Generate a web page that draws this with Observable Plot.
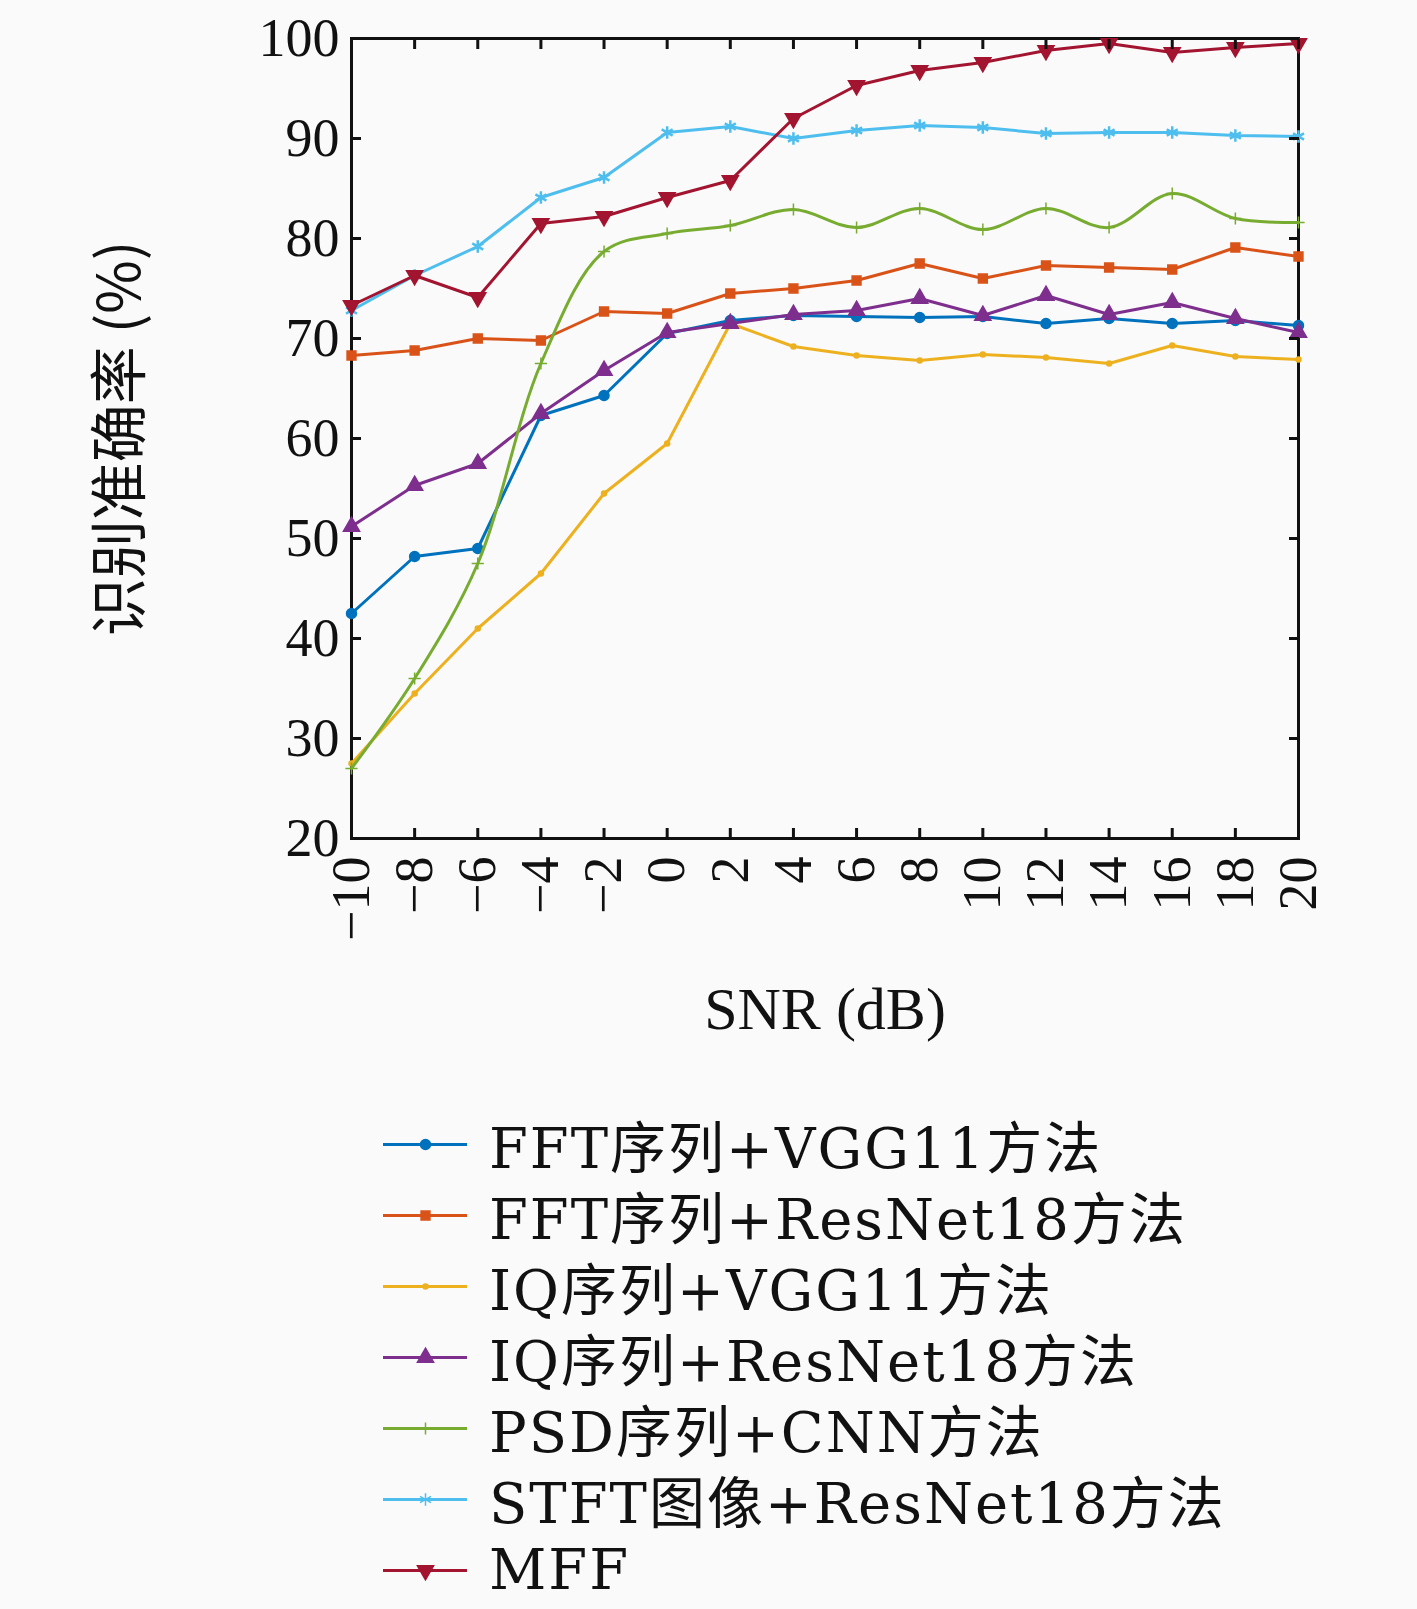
<!DOCTYPE html>
<html><head><meta charset="utf-8">
<script src="https://cdn.jsdelivr.net/npm/d3@7"></script>
<script src="https://cdn.jsdelivr.net/npm/@observablehq/plot@0.6"></script>
<style>
body{margin:0;background:#fafafa;font-family:"Liberation Serif",serif;}
#legend{margin-left:383px;margin-top:28px;}
.row{display:flex;align-items:center;height:71px;font-size:56px;letter-spacing:2px;color:#111;font-family:"DejaVu Serif","Noto Sans CJK SC",serif;}
.row svg{margin-right:22px;}
</style></head><body>
<div id="chart"></div>
<div id="legend"></div>
<script>
const snr = [-10,-8,-6,-4,-2,0,2,4,6,8,10,12,14,16,18,20];
const fftVgg = [42.5,48.2,49,62.3,64.3,70.5,71.8,72.3,72.2,72.1,72.2,71.5,72,71.5,71.8,71.3];
const fftRes = [68.3,68.8,70,69.8,72.7,72.5,74.5,75,75.8,77.5,76,77.3,77.1,76.9,79.1,78.2];
const iqVgg = [27.5,34.5,41,46.5,54.5,59.5,71.5,69.2,68.3,67.8,68.4,68.1,67.5,69.3,68.2,67.9];
const iqRes = [51.2,55.3,57.5,62.5,66.8,70.6,71.5,72.4,72.8,74,72.3,74.3,72.4,73.6,72,70.6];
const psdCnn = [27,36,47.5,67.5,78.7,80.5,81.3,82.9,81.1,83,80.9,83,81.1,84.5,82,81.6];
const stftRes = [72.8,76.3,79.2,84.1,86.1,90.6,91.2,90,90.8,91.3,91.1,90.5,90.6,90.6,90.3,90.2];
const mff = [73.3,76.3,74.1,81.5,82.2,84.1,85.8,92,95.3,96.8,97.6,98.8,99.5,98.6,99.1,99.5];
const yTicks = [20,30,40,50,60,70,80,90,100];

const series = [
  {name:"FFT序列+VGG11方法", v:fftVgg, color:"#0072BD", symbol:"circle", r:5, rot:0, curve:"linear"},
  {name:"FFT序列+ResNet18方法", v:fftRes, color:"#D95319", symbol:"square", r:5, rot:0, curve:"linear"},
  {name:"IQ序列+VGG11方法", v:iqVgg, color:"#EDB120", symbol:"circle", r:2.5, rot:0, curve:"linear"},
  {name:"IQ序列+ResNet18方法", v:iqRes, color:"#7E2F8E", symbol:"triangle", r:6, rot:0, curve:"linear"},
  {name:"PSD序列+CNN方法", v:psdCnn, color:"#77AC30", symbol:"plus", r:4, rot:0, curve:"catmull-rom"},
  {name:"STFT图像+ResNet18方法", v:stftRes, color:"#4DBEEE", symbol:"asterisk", r:6, rot:0, curve:"linear"},
  {name:"MFF", v:mff, color:"#A2142F", symbol:"triangle", r:6, rot:180, curve:"linear"}
];
const rows = series.flatMap(s => s.v.map((y,i)=>({x:snr[i], y, name:s.name})));
const hollow = s => s.symbol==="asterisk"||s.symbol==="plus";

const marks = [Plot.frame({stroke:"#111", strokeWidth:3})];
for (const s of series) {
  const d = rows.filter(r=>r.name===s.name);
  marks.push(Plot.line(d,{x:"x",y:"y",stroke:s.color,strokeWidth:3,curve:s.curve}));
  marks.push(Plot.dot(d,{x:"x",y:"y",symbol:s.symbol,r:s.r,rotate:s.rot,fill:hollow(s)?"none":s.color,stroke:s.color,strokeWidth:s.symbol==="asterisk"?2.5:1.5}));
}
const fmt = d => d < 0 ? "\u2212" + Math.abs(d) : String(d);
marks.push(
  Plot.axisY(yTicks,{anchor:"left",tickSize:-10,strokeWidth:3,fontSize:54,tickPadding:22,tickFormat:d=>d,label:null}),
  Plot.axisY(yTicks,{anchor:"right",tickSize:-10,strokeWidth:3,tickFormat:()=>"",label:null}),
  Plot.axisX(snr,{anchor:"bottom",tickSize:-10,strokeWidth:3,fontSize:54,tickRotate:-90,tickPadding:28,tickFormat:fmt,label:null}),
  Plot.axisX(snr,{anchor:"top",tickSize:-10,strokeWidth:3,tickFormat:()=>"",label:null}),
  Plot.text(["SNR (dB)"],{frameAnchor:"bottom",dy:190,fontSize:60,fill:"#111"}),
  Plot.text(["识别准确率 (%)"],{frameAnchor:"left",textAnchor:"middle",dx:-230,rotate:-90,fontSize:58,fill:"#111",fontFamily:"Noto Sans CJK SC"})
);

const chart = Plot.plot({
  width:1417, height:1080,
  marginLeft:351, marginRight:119, marginTop:38, marginBottom:242,
  style:{background:"#fafafa", fontFamily:"'Liberation Serif', serif", color:"#111", overflow:"visible"},
  x:{domain:[-10,20]}, y:{domain:[20,100]},
  marks
});
document.getElementById("chart").append(chart);

const leg = document.getElementById("legend");
for (const s of series) {
  const row = document.createElement("div"); row.className="row";
  const sw = Plot.plot({width:84,height:30,margin:0,x:{domain:[0,1],axis:null},y:{domain:[0,1],axis:null},
    style:{background:"transparent",overflow:"visible"},
    marks:[Plot.ruleY([0.5],{stroke:s.color,strokeWidth:3}),
           Plot.dot([{x:0.5,y:0.5}],{x:"x",y:"y",symbol:s.symbol,r:s.r,rotate:s.rot,fill:hollow(s)?"none":s.color,stroke:s.color,strokeWidth:1.5})]});
  row.append(sw);
  const t=document.createElement("span"); t.textContent=s.name; row.append(t);
  leg.append(row);
}
</script></body></html>
